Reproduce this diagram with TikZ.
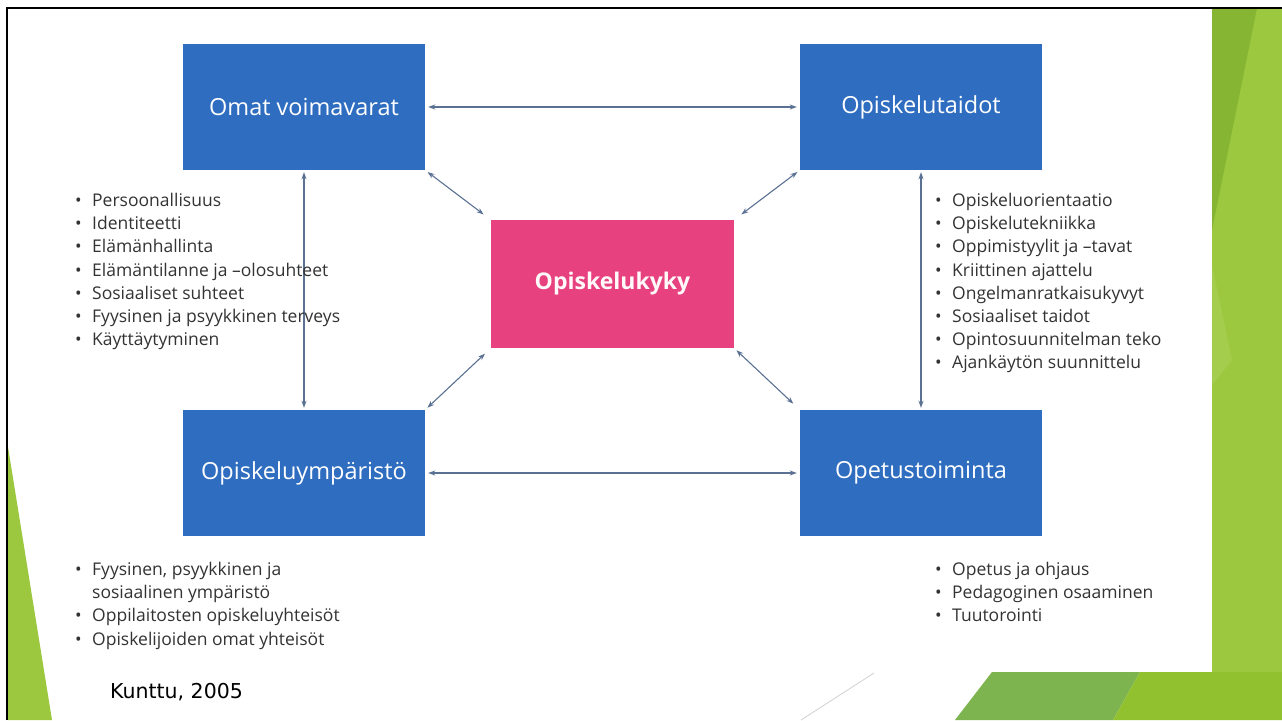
\documentclass[tikz,border=0pt]{standalone}
\usepackage{fontspec}
\setmainfont{Open Sans}
\newfontfamily\kfont{DejaVu Sans}
\usetikzlibrary{arrows.meta,calc}
\definecolor{boxblue}{HTML}{2E6DC0}
\definecolor{boxpink}{HTML}{E7417F}
\definecolor{arr}{HTML}{5B7193}
\definecolor{txt}{HTML}{333333}
\definecolor{gA}{HTML}{9CC83F}
\definecolor{gB}{HTML}{86B433}
\definecolor{gC}{HTML}{7DB44F}
\definecolor{gD}{HTML}{92C12F}
\tikzset{
  bluebox/.style={fill=boxblue, minimum width=242pt, minimum height=126pt, inner sep=0pt, text=white, font=\fontsize{23.5}{28}\selectfont},
  pinkbox/.style={fill=boxpink, minimum width=243pt, minimum height=128pt, inner sep=0pt, text=white!90!pink, font=\bfseries\fontsize{23}{27}\selectfont},
  link/.style={draw=arr, line width=1.1pt, {Stealth[length=7pt,width=5pt]}-{Stealth[length=7pt,width=5pt]}},
  blist/.style={anchor=north west, align=left, inner sep=0pt, text=txt, font=\fontsize{17.5}{23.2}\selectfont},
}
\newcommand{\bi}{\makebox[17pt][l]{•}}
\begin{document}
\begin{tikzpicture}[x=1pt,y=-1pt]
\useasboundingbox (0,0) rectangle (1282,720);
\fill[white] (0,0) rectangle (1282,720);
% green decoration
\fill[gA] (1212,8) rectangle (1282,720);
\fill[gB] (1212,8) -- (1257,8) -- (1212,230) -- cycle;
\fill[gA!92!white] (1212,265) -- (1232,360) -- (1212,385) -- cycle;
\fill[gC] (955,720) -- (992,672) -- (1140,672) -- (1113,720) -- cycle;
\fill[gD] (1113,720) -- (1140,672) -- (1282,672) -- (1282,720) -- cycle;
\fill[gA] (8,447) -- (8,720) -- (52,720) -- cycle;
\draw[black!18, line width=0.8pt] (801,720) -- (874,673);
% frame
\draw[black, line width=2pt] (7,720) -- (7,8) -- (1282,8);
% boxes
\node[bluebox] (ov) at (304,107) {Omat voimavarat};
\node[bluebox] (ot) at (921,107) {Opiskelutaidot};
\node[bluebox] (oy) at (304,473) {Opiskeluympäristö};
\node[bluebox] (op) at (921,473) {Opetustoiminta};
\node[pinkbox] (ok) at (612.5,284) {Opiskelukyky};
% connectors
\draw[link, shorten <=3pt, shorten >=3pt] (ov.east) -- (ot.west);
\draw[link, shorten <=3pt, shorten >=3pt] (oy.east) -- (op.west);
\draw[link, shorten <=2pt, shorten >=2pt] (ov.south) -- (oy.north);
\draw[link, shorten <=2pt, shorten >=2pt] (ot.south) -- (op.north);
\draw[link, shorten <=3pt, shorten >=9pt] (ov.south east) -- (ok.north west);
\draw[link, shorten <=3pt, shorten >=9pt] (ot.south west) -- (ok.north east);
\draw[link, shorten <=8pt, shorten >=3pt] (ok.south west) -- (oy.north east);
\draw[link, shorten <=3pt, shorten >=9pt] (ok.south east) -- (op.north west);
% lists
\node[blist] (l1) at (75,193) {\bi Persoonallisuus\\ \bi Identiteetti\\ \bi Elämänhallinta\\ \bi Elämäntilanne ja –olosuhteet\\ \bi Sosiaaliset suhteet\\ \bi Fyysinen ja psyykkinen terveys\\ \bi Käyttäytyminen};
\node[blist] (l2) at (935,193) {\bi Opiskeluorientaatio\\ \bi Opiskelutekniikka\\ \bi Oppimistyylit ja –tavat\\ \bi Kriittinen ajattelu\\ \bi Ongelmanratkaisukyvyt\\ \bi Sosiaaliset taidot\\ \bi Opintosuunnitelman teko\\ \bi Ajankäytön suunnittelu};
\node[blist] (l3) at (75,562) {\bi Fyysinen, psyykkinen ja\\ \hspace*{17pt}sosiaalinen ympäristö\\ \bi Oppilaitosten opiskeluyhteisöt\\ \bi Opiskelijoiden omat yhteisöt};
\node[blist] (l4) at (935,562) {\bi Opetus ja ohjaus\\ \bi Pedagoginen osaaminen\\ \bi Tuutorointi};
\node[anchor=west, inner sep=0pt, font=\kfont\fontsize{20.5}{24}\selectfont] (src) at (110,692) {Kunttu, 2005};
\end{tikzpicture}
\end{document}
